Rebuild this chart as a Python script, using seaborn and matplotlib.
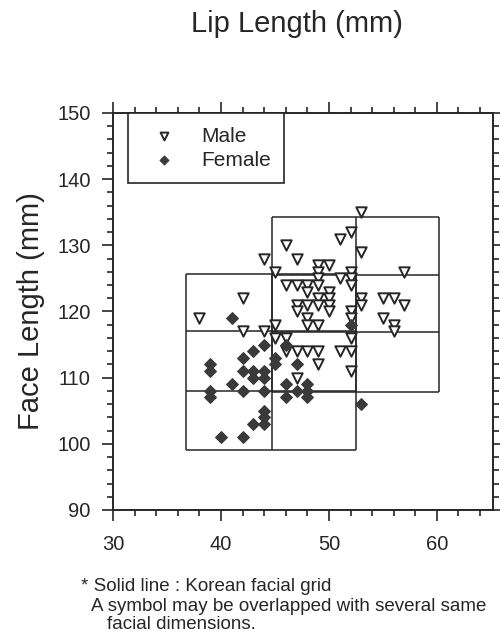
"""Lip length vs face length scatter with the Korean facial grid"""

import pandas as pd
import seaborn as sns
import matplotlib.pyplot as plt
from matplotlib.ticker import MultipleLocator

# values (mm)
male_lip = [53, 52, 51, 46, 53, 44, 47, 49, 50, 49, 45, 52, 57, 49, 51, 52,
            46, 47, 48, 49, 52, 48, 50, 49, 50, 53, 55, 56, 42, 47, 48, 49,
            50, 53, 57, 47, 50, 52, 48, 52, 55, 38, 45, 48, 49, 56, 56, 42,
            44, 45, 46, 52, 46, 47, 48, 49, 51, 52, 49, 52, 47]
male_face = [135, 132, 131, 130, 129, 128, 128, 127, 127, 126, 126, 126, 126, 125, 125, 125,
             124, 124, 124, 124, 124, 123, 123, 122, 122, 122, 122, 122, 122, 121, 121, 121,
             121, 121, 121, 120, 120, 120, 119, 119, 119, 119, 118, 118, 118, 118, 117, 117,
             117, 116, 116, 116, 114, 114, 114, 114, 114, 114, 112, 111, 110]

female_lip = [41, 44, 43, 42, 39, 39, 42, 43, 44, 43, 44, 41, 39, 42, 44, 39, 44,
              44, 44, 43, 40, 42, 46, 45, 45, 47, 46, 48, 47, 48, 46, 48, 53, 52]
female_face = [119, 115, 114, 113, 112, 111, 111, 111, 111, 110, 110, 109, 108, 108, 108, 107, 105,
               104, 103, 103, 101, 101, 115, 113, 112, 112, 109, 109, 108, 108, 107, 107, 106, 118]

# Korean facial grid (solid lines)
female_grid_x = [36.8, 44.7, 52.5]
female_grid_y = [99.0, 108.0, 117.0, 125.6]
male_grid_x = [44.7, 52.5, 60.2]
male_grid_y = [107.8, 116.9, 125.5, 134.3]

x_ticks = [30, 40, 50, 60]
y_ticks = [90, 100, 110, 120, 130, 140, 150]

data = pd.DataFrame({
    'lip': male_lip + female_lip,
    'face': male_face + female_face,
    'sex': ['Male'] * len(male_lip) + ['Female'] * len(female_lip),
})

sns.set_style('ticks')
plt.rcParams['font.family'] = ['Liberation Sans', 'DejaVu Sans']
ink = '#262626'

fig = plt.figure(figsize=(5, 6.39), dpi=100)
ax = fig.add_axes([0.226, 0.2019, 0.76, 0.6213])

# grid blocks
for gx, gy in ((female_grid_x, female_grid_y), (male_grid_x, male_grid_y)):
    ax.hlines(gy, gx[0], gx[-1], color=ink, linewidth=1.1, zorder=1)
    ax.vlines(gx, gy[0], gy[-1], color=ink, linewidth=1.1, zorder=1)

sns.scatterplot(data=data[data['sex'] == 'Male'], x='lip', y='face', marker='v',
                s=56, color='white', edgecolor=ink, linewidth=1.4,
                label='Male', ax=ax, zorder=3)
sns.scatterplot(data=data[data['sex'] == 'Female'], x='lip', y='face', marker='D',
                s=36, color='#3a3a3a', edgecolor='#3a3a3a', linewidth=0.8,
                label='Female', ax=ax, zorder=3)

ax.set_xlim(30, 65.2)
ax.set_ylim(90, 150)
ax.set_xticks(x_ticks)
ax.set_yticks(y_ticks)
ax.xaxis.set_minor_locator(MultipleLocator(2))
ax.yaxis.set_minor_locator(MultipleLocator(2))
ax.tick_params(which='both', direction='out', top=True, right=True,
               labeltop=False, labelright=False, colors=ink, width=1.2)
ax.tick_params(which='major', length=8, labelsize=14.5)
ax.tick_params(axis='x', which='major', pad=10)
ax.tick_params(axis='y', which='major', pad=8)
ax.tick_params(which='minor', length=4)
for spine in ax.spines.values():
    spine.set_visible(True)
    spine.set_color(ink)
    spine.set_linewidth(1.4)

ax.set_xlabel('')
ax.set_ylabel('Face Length (mm)', fontsize=21, color=ink)
ax.yaxis.set_label_coords(-0.18, 0.5)

fig.text(297 / 500, 1 - 32 / 639, 'Lip Length (mm)', ha='center', va='baseline',
         fontsize=21, color=ink)

leg = ax.legend(loc='upper left', bbox_to_anchor=(0.039, 1.0), borderaxespad=0,
                fontsize=15, frameon=True, fancybox=False, framealpha=1,
                edgecolor=ink, borderpad=0.65, handlelength=2.16,
                handletextpad=0.7, labelspacing=0.25, markerscale=0.75)
leg.get_frame().set_linewidth(1.2)
for text in leg.get_texts():
    text.set_color(ink)

# footnotes under the plot
fig.text(81 / 500, 1 - 591 / 639, '* Solid line : Korean facial grid',
         va='baseline', fontsize=13.5, color=ink)
fig.text(91 / 500, 1 - 611 / 639, 'A symbol may be overlapped with several same',
         va='baseline', fontsize=13.5, color=ink)
fig.text(107 / 500, 1 - 629 / 639, 'facial dimensions.',
         va='baseline', fontsize=13.5, color=ink)

fig.savefig('out.png', dpi=100)
plt.close(fig)
